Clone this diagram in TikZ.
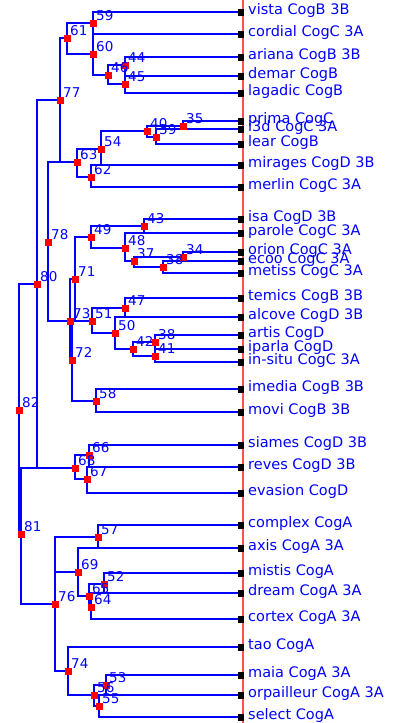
\documentclass[tikz,border=0pt]{standalone}
\usepackage{fontspec}
\setmainfont{DejaVu Sans}
\usetikzlibrary{backgrounds}
\definecolor{redline}{RGB}{255,80,80}
\definecolor{linkblue}{RGB}{0,0,255}
\newcommand\inode[4]{\node[isq] (#1) at (#2,#3) {};\node[num] (t#1) at ([xshift=3pt,yshift=2.5pt]#1.center) {#4};}
\newcommand\leafnode[3]{\node[lsq] (#1) at (241,#2) {};\node[lab] (t#1) at ([xshift=7pt,yshift=-2.5pt]#1.center) {#3};}
\newcommand\lk[3]{\draw[ln] (#2.center) -- (#2.center -| #1.center) -- (#3.center -| #1.center) -- (#3.center);}
\begin{document}
\begin{tikzpicture}[x=1pt,y=-1pt,
  ln/.style={draw=linkblue, line width=1.3pt},
  isq/.style={fill=red, minimum size=7pt, inner sep=0pt, draw=none},
  lsq/.style={fill=black, minimum width=6pt, minimum height=7pt, inner sep=0pt, draw=none},
  num/.style={anchor=base west, text=linkblue, font=\fontsize{13.5}{14}\selectfont, inner sep=0pt},
  lab/.style={anchor=base west, text=linkblue, font=\fontsize{14.5}{15}\selectfont, inner sep=0pt}]
\useasboundingbox (0,0) rectangle (396,723);
% leaves
\leafnode{vista}{12}{vista CogB 3B}
\leafnode{cordial}{34}{cordial CogC 3A}
\leafnode{ariana}{57}{ariana CogB 3B}
\leafnode{demar}{76}{demar CogB}
\leafnode{lagadic}{93}{lagadic CogB}
\leafnode{prima}{121}{prima CogC}
\leafnode{i3d}{129}{i3d CogC 3A}
\leafnode{lear}{144}{lear CogB}
\leafnode{mirages}{165}{mirages CogD 3B}
\leafnode{merlin}{187}{merlin CogC 3A}
\leafnode{isa}{219}{isa CogD 3B}
\leafnode{parole}{233}{parole CogC 3A}
\leafnode{orion}{252}{orion CogC 3A}
\leafnode{ecoo}{261}{ecoo CogC 3A}
\leafnode{metiss}{273}{metiss CogC 3A}
\leafnode{temics}{298}{temics CogB 3B}
\leafnode{alcove}{317}{alcove CogD 3B}
\leafnode{artis}{335}{artis CogD}
\leafnode{iparla}{349}{iparla CogD}
\leafnode{insitu}{362}{in-situ CogC 3A}
\leafnode{imedia}{389}{imedia CogB 3B}
\leafnode{movi}{412}{movi CogB 3B}
\leafnode{siames}{445}{siames CogD 3B}
\leafnode{reves}{467}{reves CogD 3B}
\leafnode{evasion}{493}{evasion CogD}
\leafnode{complex}{525}{complex CogA}
\leafnode{axis}{548}{axis CogA 3A}
\leafnode{mistis}{573}{mistis CogA}
\leafnode{dream}{593}{dream CogA 3A}
\leafnode{cortex}{619}{cortex CogA 3A}
\leafnode{tao}{647}{tao CogA}
\leafnode{maia}{675}{maia CogA 3A}
\leafnode{orpailleur}{695}{orpailleur CogA 3A}
\leafnode{select}{717}{select CogA}
% internal nodes
\inode{n59}{93}{23}{59}
\inode{n60}{93}{54}{60}
\inode{n44}{125}{65}{44}
\inode{n45}{125}{84}{45}
\inode{n46}{108}{75}{46}
\inode{n61}{67}{38}{61}
\inode{n35}{183}{126}{35}
\inode{n39}{156}{137}{39}
\inode{n40}{147}{131}{40}
\inode{n54}{101}{149}{54}
\inode{n62}{91}{177}{62}
\inode{n63}{77}{162}{63}
\inode{n77}{60}{100}{77}
\inode{n43}{144}{226}{43}
\inode{n34}{183}{257}{34}
\inode{n38a}{163}{267}{38}
\inode{n37}{134}{261}{37}
\inode{n48}{125}{248}{48}
\inode{n49}{91}{237}{49}
\inode{n47}{125}{308}{47}
\inode{n38b}{155}{342}{38}
\inode{n41}{155}{356}{41}
\inode{n42}{133}{349}{42}
\inode{n50}{115}{333}{50}
\inode{n51}{92}{321}{51}
\inode{n71}{75}{279}{71}
\inode{n58}{96}{401}{58}
\inode{n72}{72}{360}{72}
\inode{n73}{70}{321}{73}
\inode{n78}{48}{242}{78}
\inode{n66}{89}{455}{66}
\inode{n67}{87}{479}{67}
\inode{n68}{75}{468}{68}
\inode{n80}{37}{284}{80}
\inode{n57}{98}{537}{57}
\inode{n52}{104}{584}{52}
\inode{n64}{91}{607}{64}
\inode{n65}{89}{596}{65}
\inode{n69}{78}{572}{69}
\inode{n53}{106}{685}{53}
\inode{n55}{99}{706}{55}
\inode{n56}{94}{695}{56}
\inode{n74}{68}{671}{74}
\inode{n76}{55}{604}{76}
\inode{n81}{21}{534}{81}
\inode{n82}{19}{410}{82}
\coordinate (rtop) at (243,0);
\coordinate (rbot) at (243,723);
\begin{pgfonlayer}{background}
\fill[white] (0,0) rectangle (396,723);
\lk{n59}{vista}{cordial}
\lk{n60}{cordial}{n46}
\lk{n44}{ariana}{demar}
\lk{n45}{demar}{lagadic}
\lk{n46}{n44}{n45}
\lk{n61}{n59}{n60}
\lk{n35}{prima}{i3d}
\lk{n39}{i3d}{lear}
\lk{n40}{n35}{n39}
\lk{n54}{n40}{mirages}
\lk{n62}{mirages}{merlin}
\lk{n63}{n54}{n62}
\lk{n77}{n61}{n63}
\lk{n43}{isa}{parole}
\lk{n34}{orion}{ecoo}
\lk{n38a}{ecoo}{metiss}
\lk{n37}{n34}{n38a}
\lk{n48}{parole}{n37}
\lk{n49}{n43}{n48}
\lk{n47}{temics}{alcove}
\lk{n38b}{artis}{iparla}
\lk{n41}{iparla}{insitu}
\lk{n42}{n38b}{n41}
\lk{n50}{alcove}{n42}
\lk{n51}{n47}{n50}
\lk{n71}{n49}{n51}
\lk{n58}{imedia}{movi}
\lk{n72}{n51}{n58}
\lk{n73}{n71}{n72}
\lk{n78}{n63}{n73}
\lk{n66}{siames}{reves}
\lk{n67}{reves}{evasion}
\lk{n68}{n66}{n67}
\lk{n80}{n77}{n68}
\lk{n57}{complex}{axis}
\lk{n52}{mistis}{dream}
\lk{n64}{dream}{cortex}
\lk{n65}{n52}{n64}
\lk{n69}{axis}{n65}
\lk{n53}{maia}{orpailleur}
\lk{n55}{orpailleur}{select}
\lk{n56}{n53}{n55}
\lk{n74}{tao}{n56}
\lk{n76}{n57}{n74}
\draw[ln] (n76.center |- n69.center) -- (n69.center);
\lk{n81}{n68}{n76}
\lk{n82}{n80}{n81}
\draw[redline, line width=2pt] (rtop) -- (rbot);
\end{pgfonlayer}
\end{tikzpicture}
\end{document}
